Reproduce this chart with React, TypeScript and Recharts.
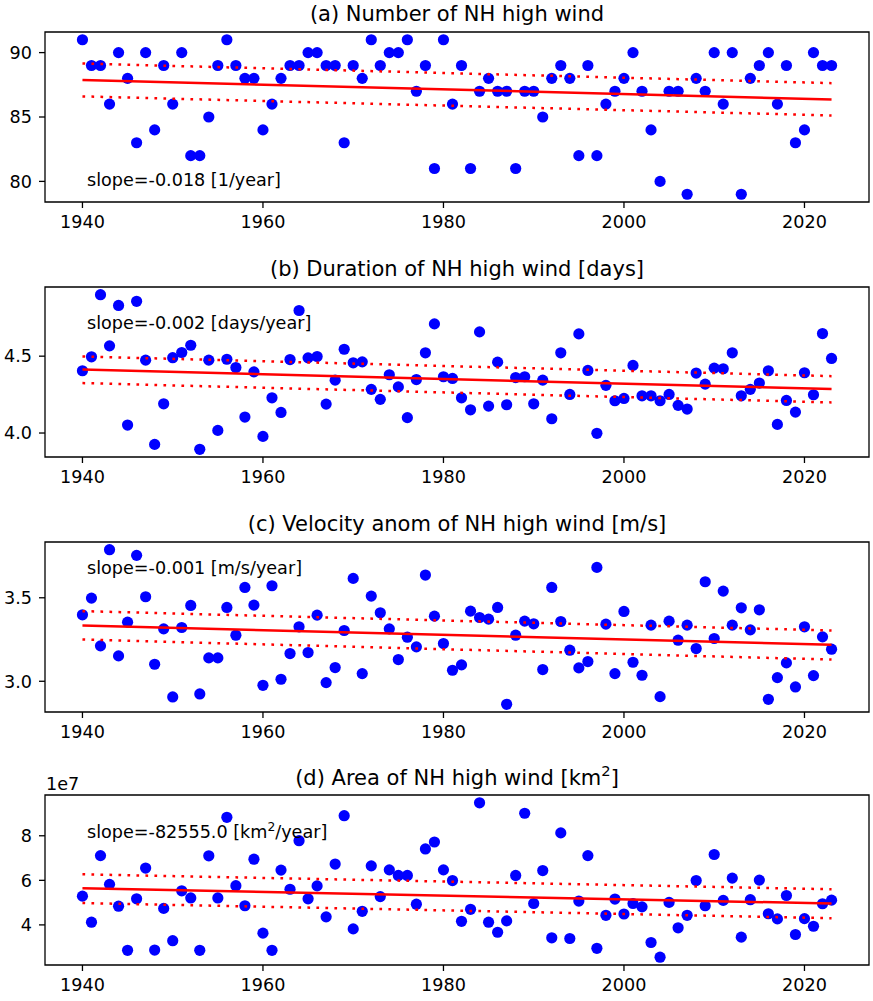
import { ScatterChart, Scatter, XAxis, YAxis, ReferenceArea } from "recharts";

const FONT = "'DejaVu Sans', sans-serif";

const YEARS = [
  1940, 1941, 1942, 1943, 1944, 1945, 1946, 1947, 1948, 1949,
  1950, 1951, 1952, 1953, 1954, 1955, 1956, 1957, 1958, 1959,
  1960, 1961, 1962, 1963, 1964, 1965, 1966, 1967, 1968, 1969,
  1970, 1971, 1972, 1973, 1974, 1975, 1976, 1977, 1978, 1979,
  1980, 1981, 1982, 1983, 1984, 1985, 1986, 1987, 1988, 1989,
  1990, 1991, 1992, 1993, 1994, 1995, 1996, 1997, 1998, 1999,
  2000, 2001, 2002, 2003, 2004, 2005, 2006, 2007, 2008, 2009,
  2010, 2011, 2012, 2013, 2014, 2015, 2016, 2017, 2018, 2019,
  2020, 2021, 2022, 2023,
];

// (a) number of NH high wind
const numberWind = [
  91, 89, 89, 86, 90, 88, 83, 90, 84, 89,
  86, 90, 82, 82, 85, 89, 91, 89, 88, 88,
  84, 86, 88, 89, 89, 90, 90, 89, 89, 83,
  89, 88, 91, 89, 90, 90, 91, 87, 89, 81,
  91, 86, 89, 81, 87, 88, 87, 87, 81, 87,
  87, 85, 88, 89, 88, 82, 89, 82, 86, 87,
  88, 90, 87, 84, 80, 87, 87, 79, 88, 87,
  90, 86, 90, 79, 88, 89, 90, 86, 89, 83,
  84, 90, 89, 89,
];

// (b) duration [days]
const durationWind = [
  4.405, 4.496, 4.9, 4.567, 4.83, 4.052, 4.857, 4.474, 3.926, 4.19,
  4.49, 4.524, 4.571, 3.894, 4.474, 4.017, 4.48, 4.426, 4.104, 4.398,
  3.978, 4.229, 4.134, 4.478, 4.797, 4.489, 4.498, 4.188, 4.344, 4.545,
  4.457, 4.463, 4.284, 4.219, 4.379, 4.3, 4.1, 4.348, 4.522, 4.71,
  4.366, 4.355, 4.229, 4.151, 4.658, 4.175, 4.461, 4.184, 4.361, 4.366,
  4.19, 4.344, 4.093, 4.522, 4.251, 4.645, 4.407, 3.998, 4.31, 4.21,
  4.225, 4.44, 4.242, 4.242, 4.21, 4.251, 4.18, 4.156, 4.39, 4.318,
  4.422, 4.418, 4.522, 4.242, 4.284, 4.325, 4.405, 4.056, 4.212, 4.136,
  4.392, 4.249, 4.647, 4.485,
];

// (c) velocity anomaly [m/s]
const velocityWind = [
  3.398, 3.498, 3.212, 3.788, 3.152, 3.354, 3.754, 3.506, 3.102, 3.314,
  2.906, 3.322, 3.454, 2.924, 3.14, 3.14, 3.442, 3.276, 3.562, 3.456,
  2.976, 3.572, 3.012, 3.166, 3.326, 3.172, 3.396, 2.992, 3.082, 3.304,
  3.616, 3.046, 3.51, 3.41, 3.314, 3.13, 3.264, 3.206, 3.636, 3.39,
  3.226, 3.066, 3.098, 3.42, 3.382, 3.372, 3.442, 2.862, 3.276, 3.36,
  3.344, 3.07, 3.562, 3.358, 3.186, 3.08, 3.118, 3.682, 3.342, 3.046,
  3.418, 3.114, 3.036, 3.336, 2.908, 3.36, 3.246, 3.336, 3.196, 3.596,
  3.256, 3.54, 3.336, 3.44, 3.308, 3.428, 2.892, 3.022, 3.11, 2.966,
  3.326, 3.034, 3.266, 3.192,
];

// (d) area [1e7 km^2]
const areaWind = [
  5.29, 4.12, 7.11, 5.82, 4.84, 2.86, 5.17, 6.55, 2.87, 4.74,
  3.29, 5.53, 5.21, 2.86, 7.1, 5.21, 8.83, 5.76, 4.86, 6.95,
  3.63, 2.86, 6.46, 5.6, 7.78, 5.17, 5.75, 4.36, 6.73, 8.9,
  3.82, 4.61, 6.65, 5.27, 6.47, 6.22, 6.22, 4.93, 7.41, 7.72,
  6.47, 5.99, 4.16, 4.7, 9.48, 4.12, 3.67, 4.18, 6.22, 9.01,
  4.96, 6.44, 3.42, 8.13, 3.39, 5.07, 7.11, 2.95, 4.43, 5.16,
  4.49, 4.96, 4.81, 3.21, 2.55, 5.01, 3.87, 4.43, 5.99, 4.86,
  7.16, 5.1, 6.1, 3.45, 5.13, 6.01, 4.5, 4.27, 5.32, 3.57,
  4.28, 3.94, 4.95, 5.11,
];

// trend line and bounds, at first and last year
const TREND_YEARS = [1940, 2023];
const trendA = [87.88, 86.36];
const upperA = [89.15, 87.63];
const lowerA = [86.6, 85.12];
const trendB = [4.413, 4.286];
const upperB = [4.498, 4.37];
const lowerB = [4.325, 4.199];
const trendC = [3.334, 3.218];
const upperC = [3.42, 3.304];
const lowerC = [3.25, 3.13];
const trendD = [5.64, 4.96];
const upperD = [6.27, 5.6];
const lowerD = [4.98, 4.3];

const X_TICKS = [1940, 1960, 1980, 2000, 2020];
const X_DOMAIN: [number, number] = [1935.85, 2027.15];

const tickStyle = { fontSize: 17.6, fill: "#000", fontFamily: FONT };

const Dot = (props: any) => (
  <circle cx={props.cx} cy={props.cy} r={5.6} fill="#0000ff" />
);
const NoDot = () => <g />;

type PanelProps = {
  top: number;
  height: number;
  bottom: number;
  values: number[];
  domain: [number, number];
  yTicks: number[];
  fmt: (v: number) => string;
  trend: number[];
  upper: number[];
  lower: number[];
};

function Panel({ top, height, bottom, values, domain, yTicks, fmt, trend, upper, lower }: PanelProps) {
  const points = YEARS.map((year, i) => ({ year, v: values[i] }));
  const seg = (ends: number[]) => TREND_YEARS.map((year, i) => ({ year, v: ends[i] }));
  const dotted = { stroke: "#ff0000", strokeWidth: 2.5, strokeDasharray: "2.7 6.3" };
  return (
    <div style={{ position: "absolute", left: 0, top }}>
      <ScatterChart width={873} height={height} margin={{ top: 32, right: 4, bottom, left: 0 }}>
        <XAxis
          type="number"
          dataKey="year"
          domain={X_DOMAIN}
          ticks={X_TICKS}
          interval={0}
          allowDataOverflow
          height={30}
          axisLine={false}
          tickLine={{ stroke: "#000", strokeWidth: 1.3 }}
          tickSize={6}
          tickMargin={8}
          tick={tickStyle}
        />
        <YAxis
          type="number"
          dataKey="v"
          domain={domain}
          ticks={yTicks}
          interval={0}
          allowDataOverflow
          width={45}
          axisLine={false}
          tickLine={{ stroke: "#000", strokeWidth: 1.3 }}
          tickSize={6}
          tickMargin={7}
          tick={tickStyle}
          tickFormatter={fmt}
        />
        <ReferenceArea
          x1={X_DOMAIN[0]}
          x2={X_DOMAIN[1]}
          y1={domain[0]}
          y2={domain[1]}
          fill="none"
          fillOpacity={0}
          stroke="#000"
          strokeWidth={1.3}
          strokeOpacity={1}
        />
        <Scatter data={points} shape={Dot} isAnimationActive={false} />
        <Scatter data={seg(upper)} shape={NoDot} line={dotted} isAnimationActive={false} />
        <Scatter data={seg(lower)} shape={NoDot} line={dotted} isAnimationActive={false} />
        <Scatter
          data={seg(trend)}
          shape={NoDot}
          line={{ stroke: "#ff0000", strokeWidth: 2.5 }}
          isAnimationActive={false}
        />
      </ScatterChart>
    </div>
  );
}

export default function App() {
  const title = { fontSize: 21, fontFamily: FONT, fill: "#000", textAnchor: "middle" as const };
  const note = { fontSize: 17.6, fontFamily: FONT, fill: "#000" };
  return (
    <div
      style={{
        position: "absolute",
        left: 0,
        top: 0,
        width: 873,
        height: 1001,
        overflow: "hidden",
        background: "#fff",
      }}
    >
      <Panel top={0} height={250} bottom={18} values={numberWind} domain={[78.4, 91.6]}
        yTicks={[80, 85, 90]} fmt={(v) => String(v)} trend={trendA} upper={upperA} lower={lowerA} />
      <Panel top={255} height={250} bottom={18} values={durationWind} domain={[3.844, 4.95]}
        yTicks={[4.0, 4.5]} fmt={(v) => v.toFixed(1)} trend={trendB} upper={upperB} lower={lowerB} />
      <Panel top={510} height={250} bottom={18} values={velocityWind} domain={[2.816, 3.834]}
        yTicks={[3.0, 3.5]} fmt={(v) => v.toFixed(1)} trend={trendC} upper={upperC} lower={lowerC} />
      <Panel top={763} height={238} bottom={6} values={areaWind} domain={[2.2, 9.83]}
        yTicks={[4, 6, 8]} fmt={(v) => String(v)} trend={trendD} upper={upperD} lower={lowerD} />

      <svg width={873} height={1001} style={{ position: "absolute", left: 0, top: 0, pointerEvents: "none" }}>
        <text x={457} y={21} {...title}>(a) Number of NH high wind</text>
        <text x={457} y={276} {...title}>(b) Duration of NH high wind [days]</text>
        <text x={457} y={531} {...title}>(c) Velocity anom of NH high wind [m/s]</text>
        <text x={457} y={784.5} {...title}>
          (d) Area of NH high wind [km<tspan fontSize={14.7} dy={-8.5}>2</tspan>
          <tspan dy={8.5}>]</tspan>
        </text>

        <text x={87} y={186} {...note}>slope=-0.018 [1/year]</text>
        <text x={87} y={329} {...note}>slope=-0.002 [days/year]</text>
        <text x={87} y={574} {...note}>slope=-0.001 [m/s/year]</text>
        <text x={87} y={838} {...note}>
          slope=-82555.0 [km<tspan fontSize={12.3} dy={-7}>2</tspan>
          <tspan dy={7}>/year]</tspan>
        </text>
        <text x={46} y={790} {...note}>1e7</text>
      </svg>
    </div>
  );
}
